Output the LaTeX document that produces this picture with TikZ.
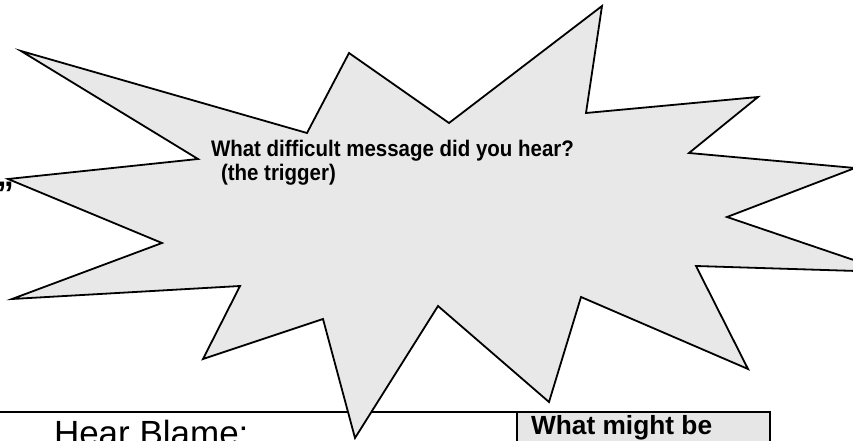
\documentclass[tikz,border=0pt]{standalone}
\usepackage{fontspec}
\setmainfont{Liberation Sans}
\newfontfamily\narrowfont[FakeStretch=0.91]{Liberation Sans}
\definecolor{burstgray}{HTML}{E8E8E8}
\definecolor{boxgray}{HTML}{E6E6E6}
\tikzset{
  burst/.style={draw=black, fill=burstgray, line width=1.8pt, line join=miter},
  tline/.style={draw=black, line width=1.8pt},
  cellbox/.style={draw=black, fill=boxgray, line width=1.8pt},
  plain/.style={inner sep=0pt, outer sep=0pt, text=black}
}
\begin{document}
\begin{tikzpicture}[x=1pt,y=-1pt]
\useasboundingbox (0,0) rectangle (853,441);
\clip (0,0) rectangle (853,441);
% table top line and gray cell
\draw[tline] (0,412) -- (770,412);
\draw[cellbox] (517,412) rectangle (770,460);
% starburst
\draw[burst] (21,51) -- (307,133) -- (349,53) -- (449,123) -- (602,6) -- (586,113)
  -- (758,97) -- (689,153) -- (855,168) -- (727,217) -- (889,272) -- (696,266)
  -- (748,369) -- (581,297) -- (549,402) -- (438,306) -- (355,438) -- (323,319)
  -- (203,359) -- (240,286) -- (12,299) -- (162,243) -- (8,179) -- (198,159) -- cycle;
% texts
\node[plain, anchor=base west, font=\narrowfont\bfseries\fontsize{22.5}{24}\selectfont] (q1) at (211,156.5) {What difficult message did you hear?};
\node[plain, anchor=base west, font=\narrowfont\bfseries\fontsize{22.5}{24}\selectfont] (q2) at (221,180) {(the trigger)};
\node[plain, anchor=base east, font=\bfseries\fontsize{34}{36}\selectfont] (qm) at (14,205) {”};
\node[plain, anchor=base west, font=\fontsize{35}{37}\selectfont] (hb) at (54,445) {Hear Blame:};
\node[plain, anchor=base west, font=\bfseries\fontsize{26.3}{28}\selectfont] (wm) at (531,434) {What might be};
\end{tikzpicture}
\end{document}
